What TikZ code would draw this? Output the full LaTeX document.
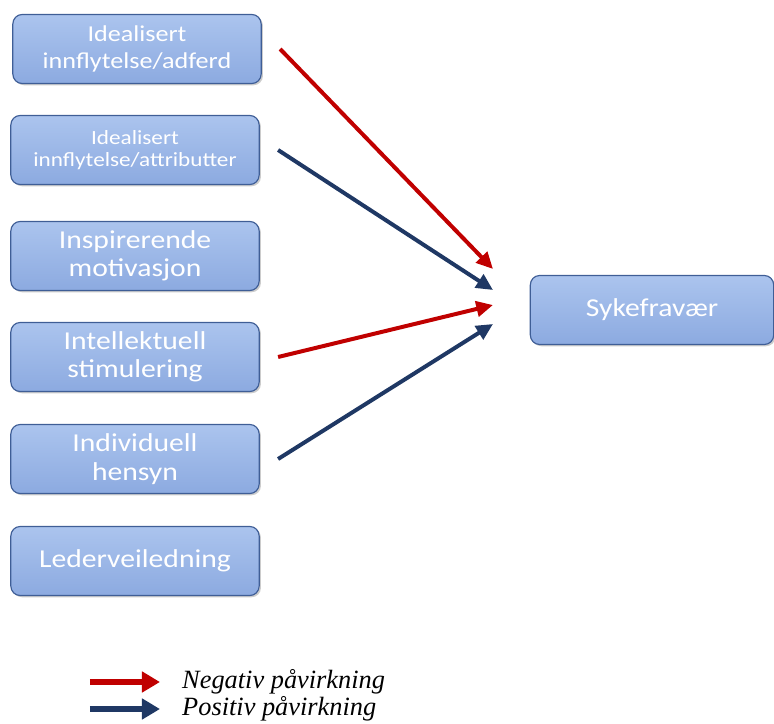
\documentclass[tikz,border=0pt]{standalone}
\usepackage{fontspec}
\setmainfont{Liberation Serif}
\newfontfamily\boxfont[FakeStretch=1.15]{Carlito}
\usepackage{tikz}
\usetikzlibrary{arrows.meta,shadows}
\definecolor{negred}{HTML}{C00000}
\definecolor{posblue}{HTML}{1F3864}
\definecolor{boxtop}{HTML}{ABC4EE}
\definecolor{boxbot}{HTML}{8CAAE0}
\definecolor{boxline}{HTML}{3F5E96}

\begin{document}
\begin{tikzpicture}[x=0.03cm,y=-0.03cm,
                      box/.style={draw=boxline,line width=1pt,rounded corners=8pt,
                        top color=boxtop,bottom color=boxbot,text=white,align=center,
                        minimum width=7.45cm,minimum height=2.07cm,
                        font=\boxfont\fontsize{22}{24.3}\selectfont,
                        drop shadow={shadow xshift=1.5pt,shadow yshift=-1.5pt,opacity=0.4}},
                      negarrow/.style={draw=negred,line width=3.4pt,-{Triangle[length=0.5cm,width=0.46cm]}},
                      posarrow/.style={negarrow,draw=posblue},
                      negleg/.style={draw=negred,line width=4.3pt,-{Triangle[length=0.54cm,width=0.6cm]}},
                      posleg/.style={negleg,draw=posblue},
                      legtext/.style={anchor=west,inner sep=0pt,font=\itshape\fontsize{22.5}{24}\selectfont}]
                      \useasboundingbox (0,0) rectangle (774,724);
                      % factor boxes
                      \node[box,font=\boxfont\fontsize{19.4}{23}\selectfont] (b1) at (137,49) {Idealisert\\innflytelse/adferd};
                      \node[box,font=\boxfont\fontsize{17.2}{18.5}\selectfont] (b2) at (135,150) {Idealisert\\innflytelse/attributter};
                      \node[box] (b3) at (135,256) {Inspirerende\\motivasjon};
                      \node[box] (b4) at (135,357) {Intellektuell\\stimulering};
                      \node[box] (b5) at (135,459) {Individuell\\hensyn};
                      \node[box] (b6) at (135,561) {Lederveiledning};
                      \node[box,minimum width=7.3cm] (syk) at (652,310) {Sykefravær};
                      % arrow tips
                      \coordinate (n1) at (493,269);
                      \coordinate (n2) at (493,290);
                      \coordinate (n3) at (493,305);
                      \coordinate (n4) at (493,324);
                      \foreach \from/\to/\st in {b1/n1/negarrow,b2/n2/posarrow,b4/n3/negarrow,b5/n4/posarrow}
                      \draw[\st] ([xshift=0.55cm]\from.east) -- (\to);
                      % legend
                      \node[legtext] (lneg) at (182,682) {Negativ påvirkning};
                      \node[legtext] (lpos) at (182,709) {Positiv påvirkning};
                      \draw[negleg] ([xshift=-2.76cm]lneg.west) -- ([xshift=-0.66cm]lneg.west);
                      \draw[posleg] ([xshift=-2.76cm]lpos.west) -- ([xshift=-0.66cm]lpos.west);
                  \end{tikzpicture}
\end{document}
